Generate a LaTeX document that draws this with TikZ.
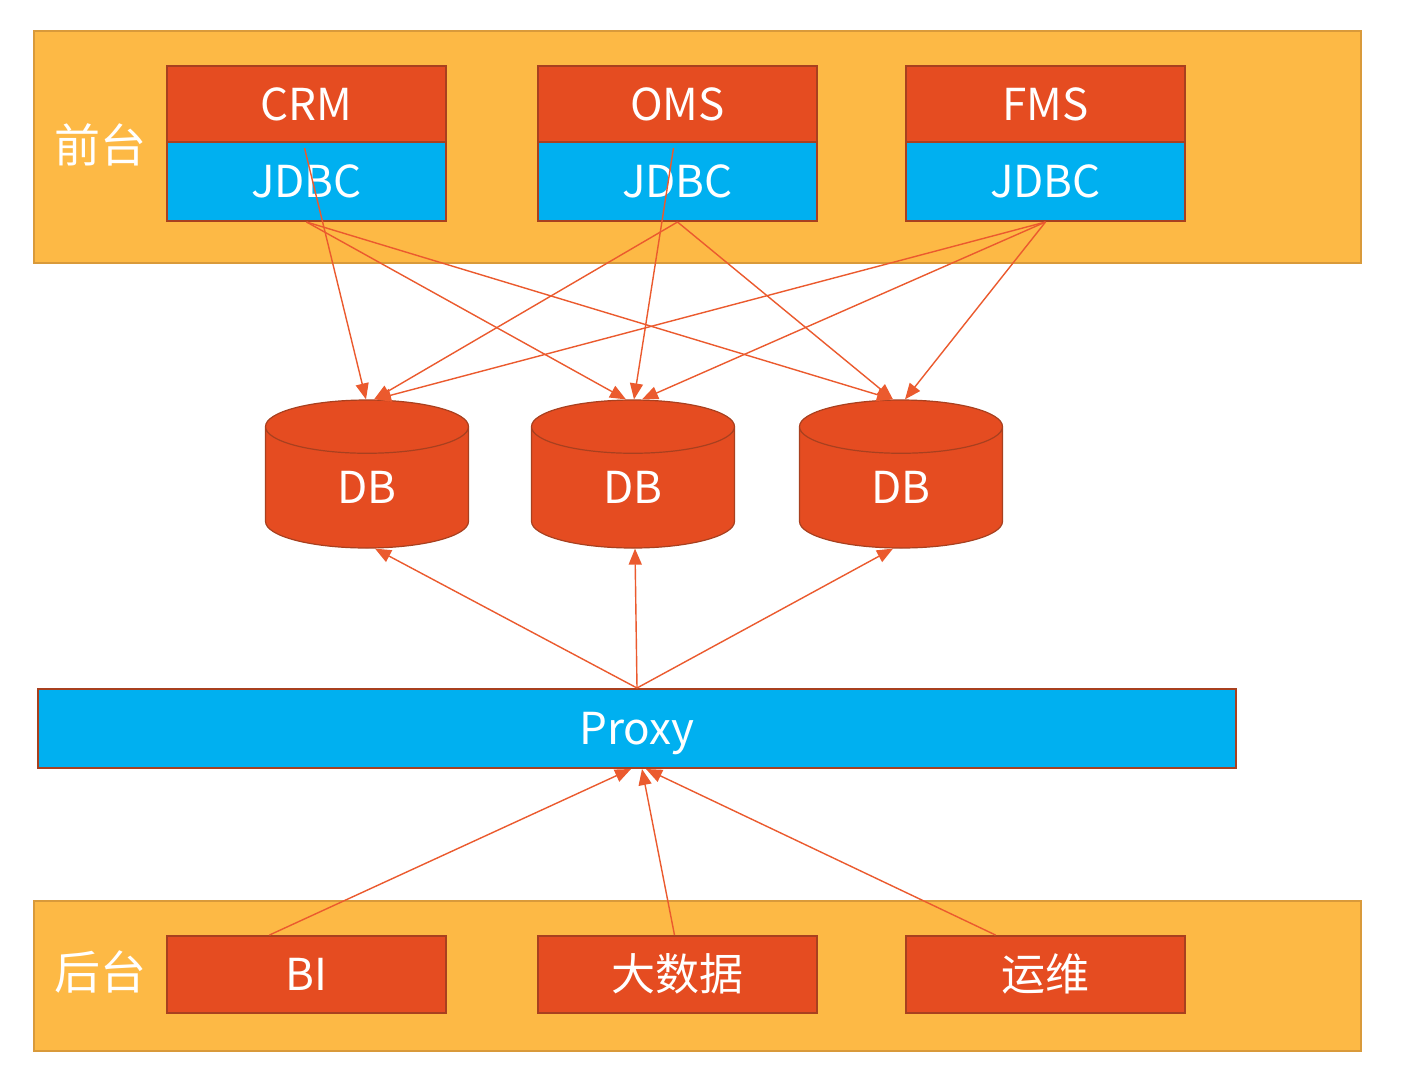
\documentclass[tikz,border=0pt]{standalone}
\usepackage{fontspec}
\setmainfont{Noto Sans CJK SC}
\usetikzlibrary{shapes.geometric,arrows.meta,calc}
\definecolor{bandorange}{HTML}{FDB945}
\definecolor{bandedge}{HTML}{D99A3A}
\definecolor{appred}{HTML}{E54C21}
\definecolor{boxedge}{HTML}{A8401F}
\definecolor{jblue}{HTML}{00B0F0}
\definecolor{linkred}{HTML}{EB5A2E}
\begin{document}
\begin{tikzpicture}[x=1pt,y=-1pt,
  band/.style={fill=bandorange, draw=bandedge, line width=1.5pt, inner sep=0pt, anchor=north west},
  bandlbl/.style={text=white, font=\fontsize{46}{50}\selectfont, inner sep=0pt},
  appbox/.style={fill=appred, draw=boxedge, line width=2pt, minimum width=279pt, minimum height=76pt,
     text=white, font=\fontsize{44}{50}\selectfont, inner sep=0pt, text height=32pt, text depth=0pt, anchor=north west},
  jdbcbox/.style={appbox, fill=jblue, minimum height=79pt},
  dbshape/.style={cylinder, shape border rotate=90, aspect=0.9, minimum width=203pt, minimum height=148pt,
     fill=appred, draw=boxedge, line width=1.2pt, text=white, font=\fontsize{44}{50}\selectfont, inner sep=0pt,
     text height=32pt, text depth=0pt, anchor=shape center},
  link/.style={draw=linkred, line width=1.4pt, -{Triangle[length=16pt,width=13pt]}}
]
\useasboundingbox (0,0) rectangle (1422,1072);
\fill[white] (0,0) rectangle (1422,1072);

% bands
\node[band, minimum width=1327pt, minimum height=232pt] (front) at (33,30) {};
\node[band, minimum width=1327pt, minimum height=150pt] (back) at (33,900) {};
\node[bandlbl] (frontlbl) at (100,145) {前台};
\node[bandlbl] (backlbl) at (100,972) {后台};

% front apps
\node[appbox] (crm) at (166,65) {CRM};
\node[jdbcbox] (jdbc1) at (166,141) {JDBC};
\node[appbox] (oms) at (537,65) {OMS};
\node[jdbcbox] (jdbc2) at (537,141) {JDBC};
\node[appbox] (fms) at (905,65) {FMS};
\node[jdbcbox] (jdbc3) at (905,141) {JDBC};

% databases
\node[dbshape] (db1) at (367,474) {DB};
\node[dbshape] (db2) at (633,474) {DB};
\node[dbshape] (db3) at (901,474) {DB};

% proxy
\node[appbox, fill=jblue, minimum width=1198pt, minimum height=79pt] (proxy) at (37,688) {Proxy};

% back apps
\node[appbox, minimum height=77pt] (bi) at (166,935) {BI};
\node[appbox, minimum height=77pt] (bigdata) at (537,935) {大数据};
\node[appbox, minimum height=77pt] (ops) at (905,935) {运维};

% front -> db
\draw[link] ($(jdbc1.north)+(-2,7)$) -- ($(db1.north)+(-1,0)$);
\draw[link] (jdbc1.south) -- ($(db2.north)+(-7,0)$);
\draw[link] (jdbc1.south) -- ($(db3.north)+(-8,0)$);
\draw[link] (jdbc2.south) -- ($(db1.north)+(7,0)$);
\draw[link] ($(jdbc2.north)+(-4,7)$) -- ($(db2.north)+(1,0)$);
\draw[link] (jdbc2.south) -- ($(db3.north)+(-8,0)$);
\draw[link] (jdbc3.south) -- ($(db1.north)+(8,0)$);
\draw[link] (jdbc3.south) -- ($(db2.north)+(9,0)$);
\draw[link] (jdbc3.south) -- ($(db3.north)+(4,0)$);

% proxy -> db
\draw[link] (proxy.north) -- ($(db1.south)+(8,0)$);
\draw[link] (proxy.north) -- ($(db2.south)+(2,0)$);
\draw[link] (proxy.north) -- ($(db3.south)+(-8,0)$);

% back -> proxy
\draw[link] ($(bi.north)+(-37,0)$) -- ($(proxy.south)+(-6,0)$);
\draw[link] ($(bigdata.north)+(-3,0)$) -- ($(proxy.south)+(5,0)$);
\draw[link] ($(ops.north)+(-50,0)$) -- ($(proxy.south)+(9,0)$);
\end{tikzpicture}
\end{document}
